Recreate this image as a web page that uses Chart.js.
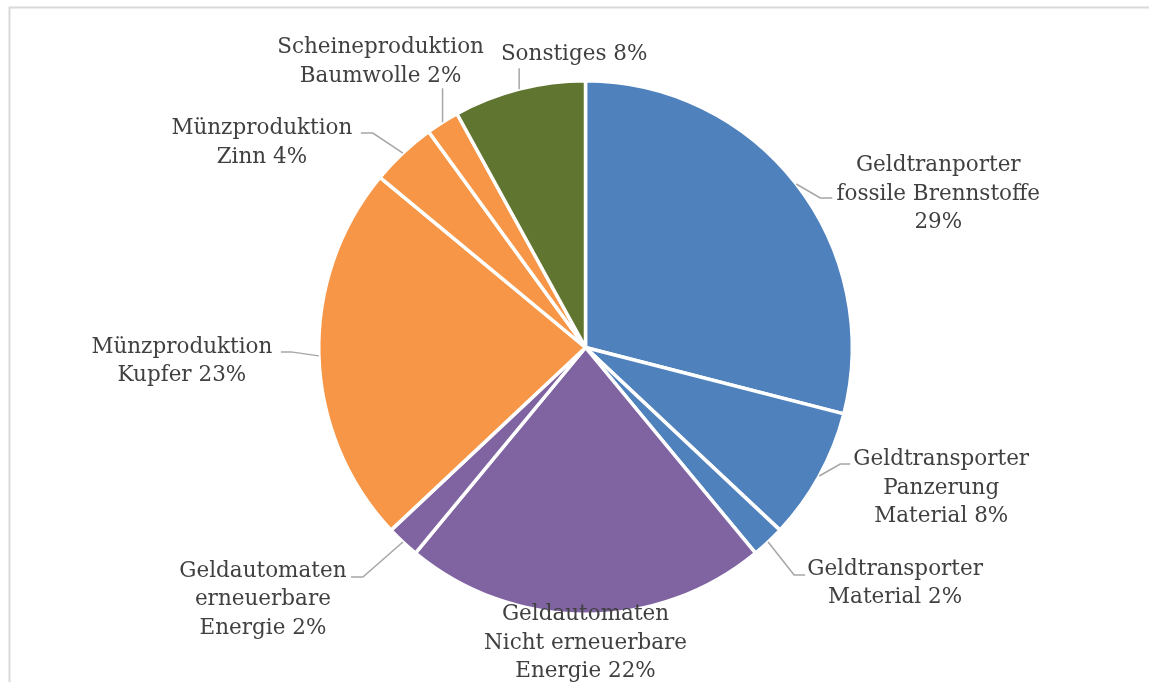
<!DOCTYPE html>
<html>
<head>
<meta charset="utf-8">
<script src="https://cdn.jsdelivr.net/npm/chart.js@4/dist/chart.umd.min.js"></script>
<style>
  html, body { margin: 0; padding: 0; background: #ffffff; }
  canvas { display: block; }
</style>
</head>
<body>
<canvas id="c" width="1149" height="682"></canvas>
<script>
// ---- data ----
const categories = [
  'Geldtranporter fossile Brennstoffe',
  'Geldtransporter Panzerung Material',
  'Geldtransporter Material',
  'Geldautomaten Nicht erneuerbare Energie',
  'Geldautomaten erneuerbare Energie',
  'Münzproduktion Kupfer',
  'Münzproduktion Zinn',
  'Scheineproduktion Baumwolle',
  'Sonstiges'
];
const values = [29, 8, 2, 22, 2, 23, 4, 2, 8];
const labelLines = [
  ['Geldtranporter', 'fossile Brennstoffe', ''],
  ['Geldtransporter', 'Panzerung', 'Material'],
  ['Geldtransporter', 'Material'],
  ['Geldautomaten', 'Nicht erneuerbare', 'Energie'],
  ['Geldautomaten', 'erneuerbare', 'Energie'],
  ['Münzproduktion', 'Kupfer'],
  ['Münzproduktion', 'Zinn'],
  ['Scheineproduktion', 'Baumwolle'],
  ['Sonstiges']
];
const colors = ['#4F81BD', '#4F81BD', '#4F81BD', '#8064A2', '#8064A2', '#F79646', '#F79646', '#F79646', '#60752F'];

// ---- label layout (relative to the slice's outer edge at its mid-angle) ----
const labelLayout = [
  { elbow: [24, 14],  tail: 12,  text: [142, -13] },
  { elbow: [21, -12], tail: 10,  text: [122, -11] },
  { elbow: [26, 33],  tail: 11,  text: [127, 33] },
  { elbow: null,      tail: 0,   text: [0, 6] },
  { elbow: [-40, 35], tail: -12, text: [-140, 35] },
  { elbow: [-28, -4], tail: -10, text: [-137, -3] },
  { elbow: [-30, -20],tail: -12, text: [-141, -19] },
  { elbow: [0, -34],  tail: 0,   text: [-62, -69] },
  { elbow: [0, -21],  tail: 0,   text: [55, -29] }
];

const FONT = '21.5px "DejaVu Serif"';
const LINE_H = 28.5;

const framePlugin = {
  id: 'frame',
  beforeDraw(chart) {
    const ctx = chart.ctx;
    ctx.save();
    ctx.fillStyle = '#ffffff';
    ctx.fillRect(0, 0, chart.width, chart.height);
    ctx.strokeStyle = '#D9D9D9';
    ctx.lineWidth = 2;
    ctx.beginPath();
    ctx.moveTo(9.5, chart.height);
    ctx.lineTo(9.5, 7.5);
    ctx.lineTo(chart.width, 7.5);
    ctx.stroke();
    ctx.restore();
  }
};

const outsideLabels = {
  id: 'outsideLabels',
  afterDatasetsDraw(chart) {
    const ctx = chart.ctx;
    const meta = chart.getDatasetMeta(0);
    const total = values.reduce((a, b) => a + b, 0);
    ctx.save();
    meta.data.forEach((arc, i) => {
      const p = arc.getProps(['x', 'y', 'startAngle', 'endAngle', 'outerRadius'], true);
      const mid = (p.startAngle + p.endAngle) / 2;
      const ex = p.x + Math.cos(mid) * p.outerRadius;
      const ey = p.y + Math.sin(mid) * p.outerRadius;
      const lay = labelLayout[i];
      if (lay.elbow) {
        ctx.strokeStyle = '#A6A6A6';
        ctx.lineWidth = 1.5;
        ctx.beginPath();
        ctx.moveTo(ex, ey);
        const bx = ex + lay.elbow[0], by = ey + lay.elbow[1];
        ctx.lineTo(bx, by);
        if (lay.tail) ctx.lineTo(bx + lay.tail, by);
        ctx.stroke();
      }
      const pct = Math.round(values[i] / total * 100) + '%';
      const lines = labelLines[i].slice();
      const last = lines.length - 1;
      lines[last] = (lines[last] ? lines[last] + ' ' : '') + pct;
      ctx.font = FONT;
      ctx.fillStyle = '#404040';
      ctx.textAlign = 'center';
      ctx.textBaseline = 'alphabetic';
      const tx = ex + lay.text[0];
      const ty = ey + lay.text[1];
      lines.forEach((ln, k) => ctx.fillText(ln, tx, ty + k * LINE_H));
    });
    ctx.restore();
  }
};

new Chart(document.getElementById('c'), {
  type: 'pie',
  data: {
    labels: categories,
    datasets: [{
      data: values,
      backgroundColor: colors,
      borderColor: '#ffffff',
      borderWidth: 3.5,
      hoverOffset: 0
    }]
  },
  options: {
    responsive: false,
    animation: false,
    devicePixelRatio: 1,
    events: [],
    layout: { padding: { top: 79, bottom: 66, left: 317, right: 295 } },
    plugins: {
      legend: { display: false },
      tooltip: { enabled: false },
      title: { display: false }
    }
  },
  plugins: [framePlugin, outsideLabels]
});
</script>
</body>
</html>
